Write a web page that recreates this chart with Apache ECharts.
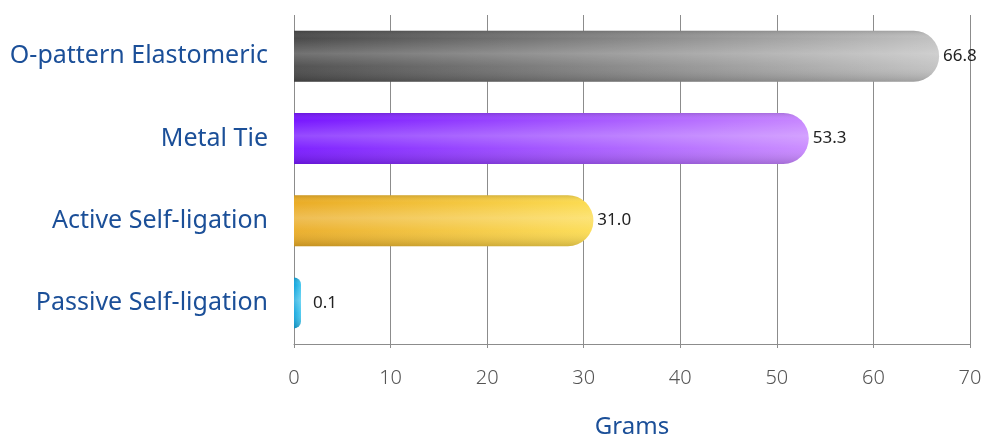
<!DOCTYPE html>
<html>
<head>
<meta charset="utf-8">
<script src="https://cdn.jsdelivr.net/npm/echarts@6/dist/echarts.min.js"></script>
<style>
  html, body { margin: 0; padding: 0; background: #ffffff; }
  #chart { width: 990px; height: 444px; }
</style>
</head>
<body>
<div id="chart"></div>
<script>
// Ligation types and measured friction (grams)
const categories = ['O-pattern Elastomeric', 'Metal Tie', 'Active Self-ligation', 'Passive Self-ligation'];
const values = [66.8, 53.3, 31.0, 0.1];
// Left (dark) and right (light) ends of each bar's gradient
const darkEnds = ['#4a4a4a', '#7818ff', '#eaac26', '#12a4dc'];
const lightEnds = ['#c2c2c2', '#c888ff', '#fcdc52', '#4ccaf0'];
const xTicks = { min: 0, max: 70, step: 10 };

const chart = echarts.init(document.getElementById('chart'), null, { renderer: 'canvas' });

const baseData = values.map((v, i) => ({
  value: v,
  itemStyle: {
    color: new echarts.graphic.LinearGradient(0, 0, 1, 0, [
      { offset: 0, color: darkEnds[i] },
      { offset: 1, color: lightEnds[i] }
    ])
  }
}));

// the tiny last bar keeps its label a little further out
const labelData = values.map(v => (v < 1 ? { value: v, label: { distance: 12 } } : v));

const font = '"Noto Sans", "Open Sans", sans-serif';

chart.setOption({
  backgroundColor: '#ffffff',
  animation: false,
  grid: { left: 294, right: 20, top: 15, bottom: 97 },
  xAxis: {
    type: 'value',
    min: xTicks.min,
    max: xTicks.max,
    interval: xTicks.step,
    name: 'Grams',
    nameLocation: 'middle',
    nameGap: 71,
    nameTextStyle: { color: '#1b4f98', fontSize: 24, fontFamily: font },
    axisLine: { show: true, lineStyle: { color: '#8c8c8c', width: 1 } },
    axisTick: { show: true, length: 4, lineStyle: { color: '#8c8c8c' } },
    axisLabel: { color: '#555555', fontSize: 20, fontFamily: font, fontWeight: 300, margin: 24 },
    splitLine: { show: true, lineStyle: { color: '#8c8c8c', width: 1 } }
  },
  yAxis: {
    type: 'category',
    data: categories,
    inverse: true,
    axisLine: { show: false },
    axisTick: { show: false },
    axisLabel: { color: '#1b4f98', fontSize: 25, fontFamily: font, margin: 26 },
    splitLine: { show: false }
  },
  series: [
    {
      type: 'bar',
      data: baseData,
      barWidth: 51,
      barMinHeight: 7,
      itemStyle: { borderRadius: [0, 26, 26, 0] },
      silent: true
    },
    {
      // tubular shading laid over the coloured bars
      type: 'bar',
      data: labelData,
      barWidth: 51,
      barGap: '-100%',
      barMinHeight: 7,
      silent: true,
      itemStyle: {
        borderRadius: [0, 26, 26, 0],
        color: new echarts.graphic.LinearGradient(0, 0, 0, 1, [
          { offset: 0, color: 'rgba(0,0,0,0.14)' },
          { offset: 0.15, color: 'rgba(255,255,255,0.0)' },
          { offset: 0.45, color: 'rgba(255,255,255,0.22)' },
          { offset: 0.7, color: 'rgba(255,255,255,0.05)' },
          { offset: 1, color: 'rgba(0,0,0,0.16)' }
        ])
      },
      label: {
        show: true,
        position: 'right',
        distance: 4,
        color: '#222222',
        fontSize: 17,
        fontFamily: font,
        formatter: p => p.value.toFixed(1)
      }
    }
  ]
});
</script>
</body>
</html>
